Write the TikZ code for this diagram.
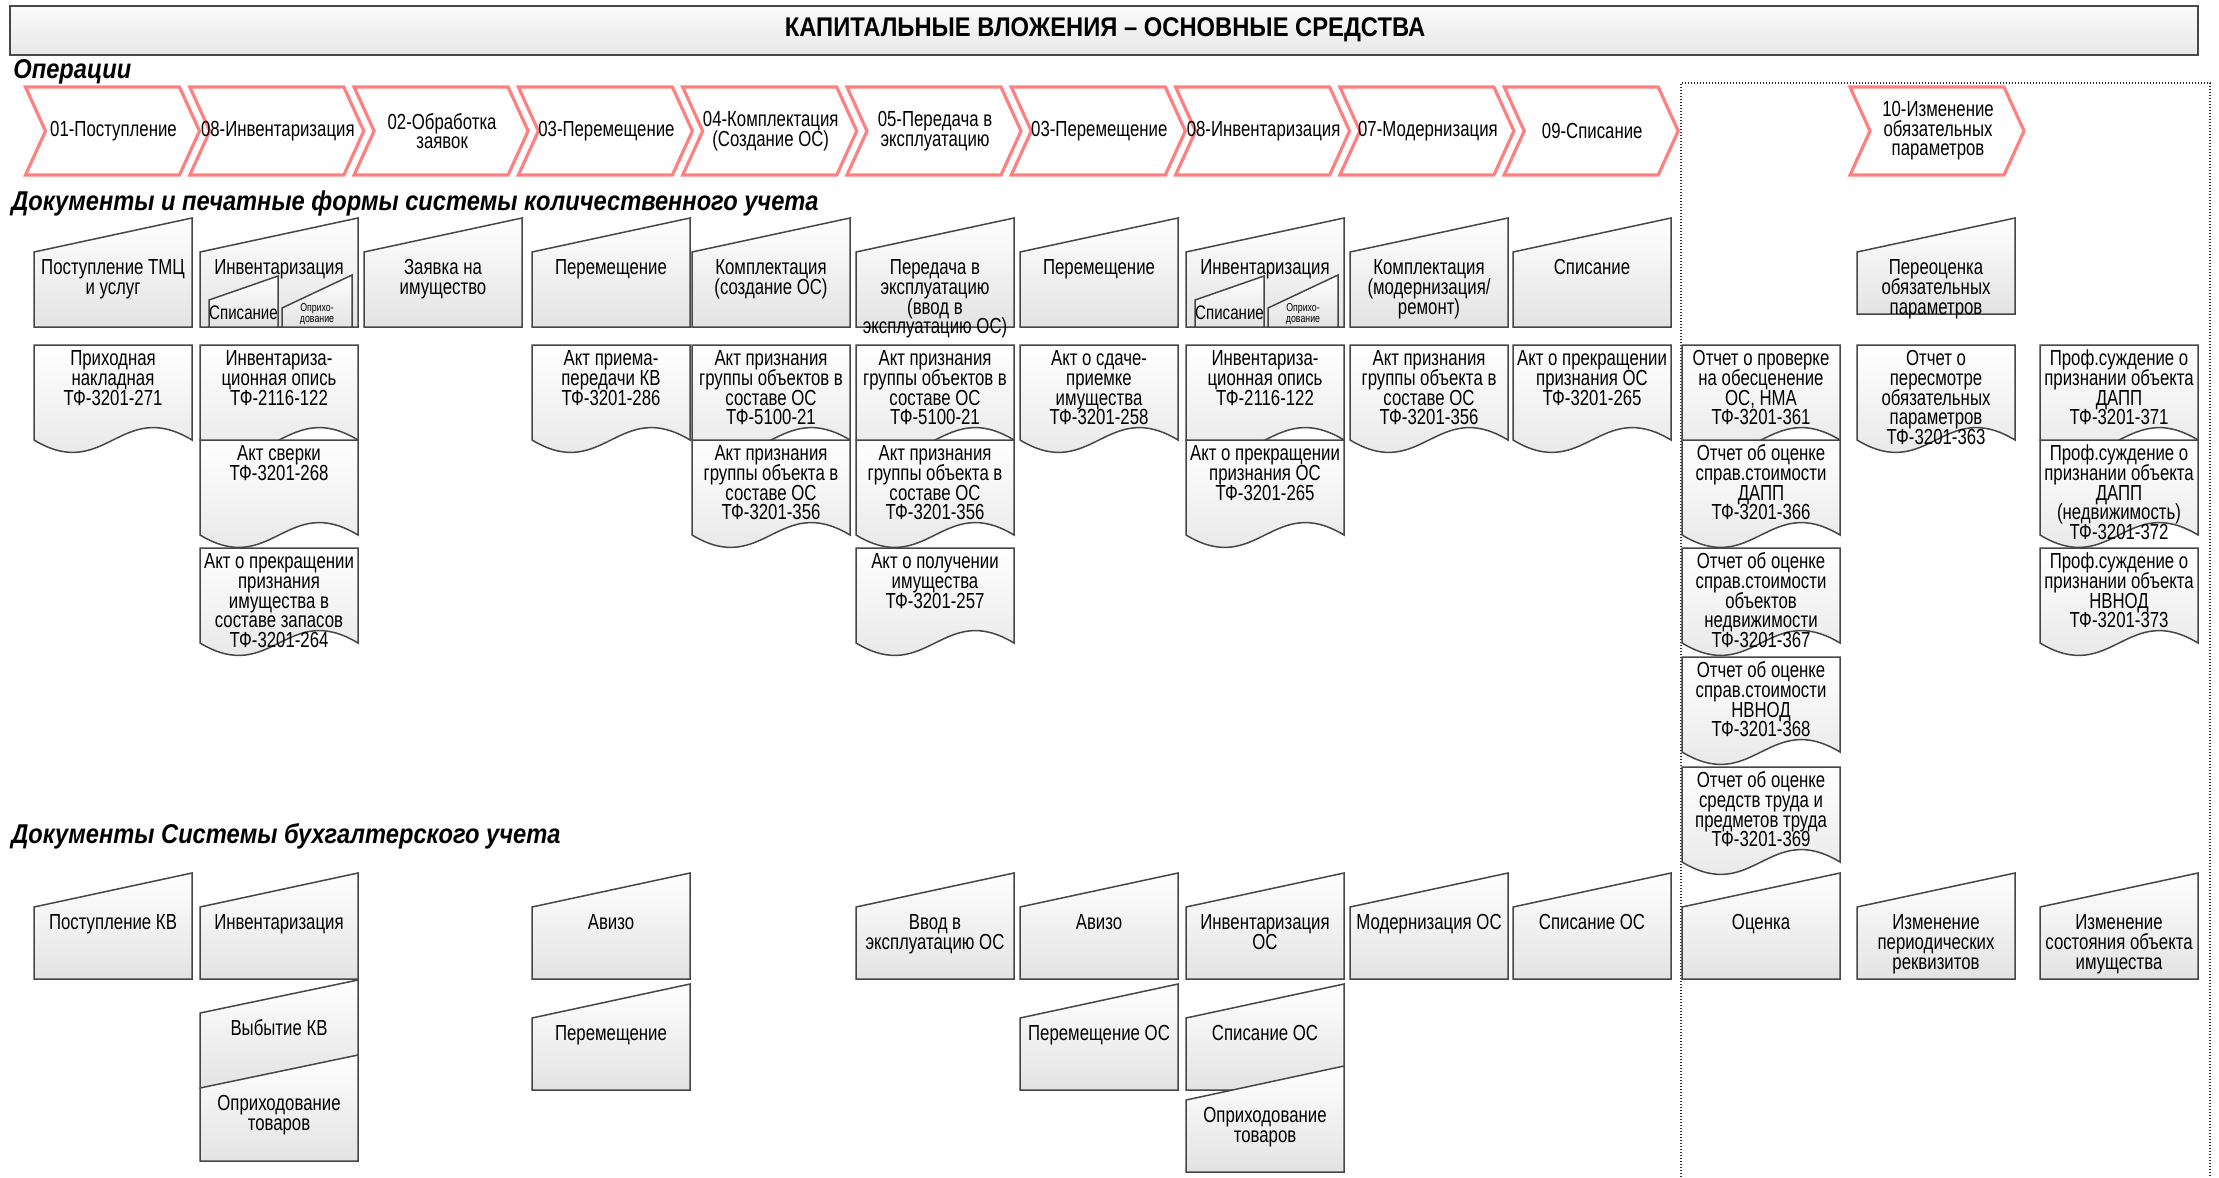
\documentclass[tikz,border=0pt]{standalone}
\usepackage{fontspec}
\setmainfont{Liberation Sans}[FakeStretch=0.77]
\newfontfamily\headfont{Liberation Sans}[FakeStretch=0.87]
\newfontfamily\titlefont{Liberation Sans}[FakeStretch=0.88]
\definecolor{chevred}{RGB}{255,128,128}
\definecolor{edgegray}{RGB}{70,70,70}
\tikzset{
  x=0.5pt, y=-0.5pt,
  txt/.style={inner sep=0pt, align=center, font=\fontsize{10.9}{9.8}\selectfont},
  smalltxt/.style={inner sep=0pt, align=center, font=\fontsize{9.8}{9.5}\selectfont},
  tinytxt/.style={inner sep=0pt, align=center, font=\fontsize{5.7}{5.5}\selectfont},
  mi/.style={draw=edgegray, line width=0.75pt, top color=white, bottom color=black!11},
  docshape/.style={draw=edgegray, line width=0.75pt, top color=white, bottom color=black!11},
  chev/.style={draw=chevred, line width=1.6pt, fill=white, line join=miter},
  head/.style={inner sep=0pt, anchor=base west, font=\headfont\bfseries\itshape\fontsize{13.6}{15}\selectfont},
  titletxt/.style={inner sep=0pt, anchor=base, font=\titlefont\bfseries\fontsize{13.5}{15}\selectfont},
  titlebox/.style={draw=edgegray, line width=0.75pt, top color=black!2, bottom color=black!9},
  dotframe/.style={draw=black!80, line width=0.6pt, dash pattern=on 0.7pt off 0.8pt},
}
% manual input: name, x, yTR, slope, yBottom, text
\newcommand\MIbox[6]{%
  \path[mi] (#2,{#3+#4}) -- ({#2+158},#3) -- ({#2+158},#5) -- (#2,#5) -- cycle;
  \node[txt,anchor=north] (#1) at ({#2+79},{#3+#4+4.5}) {\rule{0pt}{9pt}#6};
}
% document: name, x, top, text
\newcommand\Doc[4]{%
  \path[docshape] (#2,#3) -- ({#2+158},#3) -- ({#2+158},{#3+95})
     .. controls ({#2+0.55*158},{#3+95-43}) and ({#2+0.45*158},{#3+95+43}) .. (#2,{#3+95}) -- cycle;
  \node[txt,anchor=north] (#1) at ({#2+79},{#3+2.5}) {\rule{0pt}{9pt}#4};
}
% chevron: name, x of top-left, text
\newcommand\Chev[3]{%
  \path[chev] (#2,87) -- ({#2+154},87) -- ({#2+174},131) -- ({#2+154},175) -- (#2,175) -- ({#2+20},131) -- cycle;
  \node[txt] (#1) at ({#2+88},131) {#3};
}
% two small manual inputs inside an inventory box: prefix, x of column
\newcommand\SmallPair[2]{%
  \path[mi] ({#2+9},300) -- ({#2+78},276) -- ({#2+78},327) -- ({#2+9},327) -- cycle;
  \path[mi] ({#2+82},308) -- ({#2+152},275) -- ({#2+152},327) -- ({#2+82},327) -- cycle;
  \node[smalltxt] (#1s) at ({#2+43.5},313) {Списание};
  \node[tinytxt] (#1o) at ({#2+117},314) {Оприхо-\\дование};
}
\begin{document}
\lineskiplimit=-20pt\relax
\begin{tikzpicture}
\useasboundingbox (0,0) rectangle (2219,1177);
\fill[white] (0,0) rectangle (2219,1177);

% title
\path[titlebox] (10,6) rectangle (2198,55);
\node[titletxt] (title) at (1105,36.5) {КАПИТАЛЬНЫЕ ВЛОЖЕНИЯ – ОСНОВНЫЕ СРЕДСТВА};

% dotted frame
\draw[dotframe] (1681,1177) -- (1681,83) -- (2210,83) -- (2210,1177);

% headings
\node[head] (h1) at (13,79) {Операции};
\node[head] (h2) at (11,210) {Документы и печатные формы системы количественного учета};
\node[head] (h3) at (11,843) {Документы Системы бухгалтерского учета};

% chevrons
\Chev{o1}{25.5}{01-Поступление}
\Chev{o2}{189.8}{08-Инвентаризация}
\Chev{o3}{354.1}{02-Обработка\\заявок}
\Chev{o4}{518.4}{03-Перемещение}
\Chev{o5}{682.7}{04-Комплектация\\(Создание ОС)}
\Chev{o6}{847}{05-Передача в\\эксплуатацию}
\Chev{o7}{1011.3}{03-Перемещение}
\Chev{o8}{1175.6}{08-Инвентаризация}
\Chev{o9}{1339.9}{07-Модернизация}
\Chev{o10}{1504.2}{09-Списание}
\Chev{o11}{1850}{10-Изменение\\обязательных\\параметров}

% row 1: documents of the quantity accounting system
\MIbox{q1}{34}{218}{34}{327}{Поступление ТМЦ\\и услуг}
\MIbox{q2}{200}{218}{34}{327}{Инвентаризация}
\SmallPair{q2}{200}
\MIbox{q3}{364}{218}{34}{327}{Заявка на\\имущество}
\MIbox{q4}{532}{218}{34}{327}{Перемещение}
\MIbox{q5}{692}{218}{34}{327}{Комплектация\\(создание ОС)}
\MIbox{q6}{856}{218}{34}{327}{Передача в\\эксплуатацию\\(ввод в\\эксплуатацию ОС)}
\MIbox{q7}{1020}{218}{34}{327}{Перемещение}
\MIbox{q8}{1186}{218}{34}{327}{Инвентаризация}
\SmallPair{q8}{1186}
\MIbox{q9}{1350}{218}{34}{327}{Комплектация\\(модернизация/\\ремонт)}
\MIbox{q10}{1513}{218}{34}{327}{Списание}
\MIbox{q11}{1857}{218}{34}{314}{Переоценка\\обязательных\\параметров}

% row 2: printed forms
\Doc{d1}{34}{345}{Приходная\\накладная\\ТФ-3201-271}
\Doc{d2a}{200}{345}{Инвентариза-\\ционная опись\\ТФ-2116-122}
\Doc{d2b}{200}{440}{Акт сверки\\ТФ-3201-268}
\Doc{d2c}{200}{548}{Акт о прекращении\\признания\\имущества в\\составе запасов\\ТФ-3201-264}
\Doc{d4}{532}{345}{Акт приема-\\передачи КВ\\ТФ-3201-286}
\Doc{d5a}{692}{345}{Акт признания\\группы объектов в\\составе ОС\\ТФ-5100-21}
\Doc{d5b}{692}{440}{Акт признания\\группы объекта в\\составе ОС\\ТФ-3201-356}
\Doc{d6a}{856}{345}{Акт признания\\группы объектов в\\составе ОС\\ТФ-5100-21}
\Doc{d6b}{856}{440}{Акт признания\\группы объекта в\\составе ОС\\ТФ-3201-356}
\Doc{d6c}{856}{548}{Акт о получении\\имущества\\ТФ-3201-257}
\Doc{d7}{1020}{345}{Акт о сдаче-\\приемке\\имущества\\ТФ-3201-258}
\Doc{d8a}{1186}{345}{Инвентариза-\\ционная опись\\ТФ-2116-122}
\Doc{d8b}{1186}{440}{Акт о прекращении\\признания ОС\\ТФ-3201-265}
\Doc{d9}{1350}{345}{Акт признания\\группы объекта в\\составе ОС\\ТФ-3201-356}
\Doc{d10}{1513}{345}{Акт о прекращении\\признания ОС\\ТФ-3201-265}
\Doc{da1}{1682}{345}{Отчет о проверке\\на обесценение\\ОС, НМА\\ТФ-3201-361}
\Doc{da2}{1682}{440}{Отчет об оценке\\справ.стоимости\\ДАПП\\ТФ-3201-366}
\Doc{da3}{1682}{548}{Отчет об оценке\\справ.стоимости\\объектов\\недвижимости\\ТФ-3201-367}
\Doc{da4}{1682}{657}{Отчет об оценке\\справ.стоимости\\НВНОД\\ТФ-3201-368}
\Doc{da5}{1682}{767}{Отчет об оценке\\средств труда и\\предметов труда\\ТФ-3201-369}
\Doc{db1}{1857}{345}{Отчет о\\пересмотре\\обязательных\\параметров\\ТФ-3201-363}
\Doc{dc1}{2040}{345}{Проф.суждение о\\признании объекта\\ДАПП\\ТФ-3201-371}
\Doc{dc2}{2040}{440}{Проф.суждение о\\признании объекта\\ДАПП\\(недвижимость)\\ТФ-3201-372}
\Doc{dc3}{2040}{548}{Проф.суждение о\\признании объекта\\НВНОД\\ТФ-3201-373}

% row 3: accounting system documents
\MIbox{a1}{34}{873}{34}{979}{Поступление КВ}
\MIbox{a2}{200}{873}{34}{979}{Инвентаризация}
\MIbox{a2b}{200}{980}{33}{1088}{Выбытие КВ}
\MIbox{a2c}{200}{1055}{33}{1161}{Оприходование\\товаров}
\MIbox{a4}{532}{873}{34}{979}{Авизо}
\MIbox{a4b}{532}{984}{34}{1090}{Перемещение}
\MIbox{a6}{856}{873}{34}{979}{Ввод в\\эксплуатацию ОС}
\MIbox{a7}{1020}{873}{34}{979}{Авизо}
\MIbox{a7b}{1020}{984}{34}{1090}{Перемещение ОС}
\MIbox{a8}{1186}{873}{34}{979}{Инвентаризация\\ОС}
\MIbox{a8b}{1186}{984}{34}{1090}{Списание ОС}
\MIbox{a8c}{1186}{1066}{34}{1172}{Оприходование\\товаров}
\MIbox{a9}{1350}{873}{34}{979}{Модернизация ОС}
\MIbox{a10}{1513}{873}{34}{979}{Списание ОС}
\MIbox{aa}{1682}{873}{34}{979}{Оценка}
\MIbox{ab}{1857}{873}{34}{979}{Изменение\\периодических\\реквизитов}
\MIbox{ac}{2040}{873}{34}{979}{Изменение\\состояния объекта\\имущества}
\end{tikzpicture}
\end{document}
